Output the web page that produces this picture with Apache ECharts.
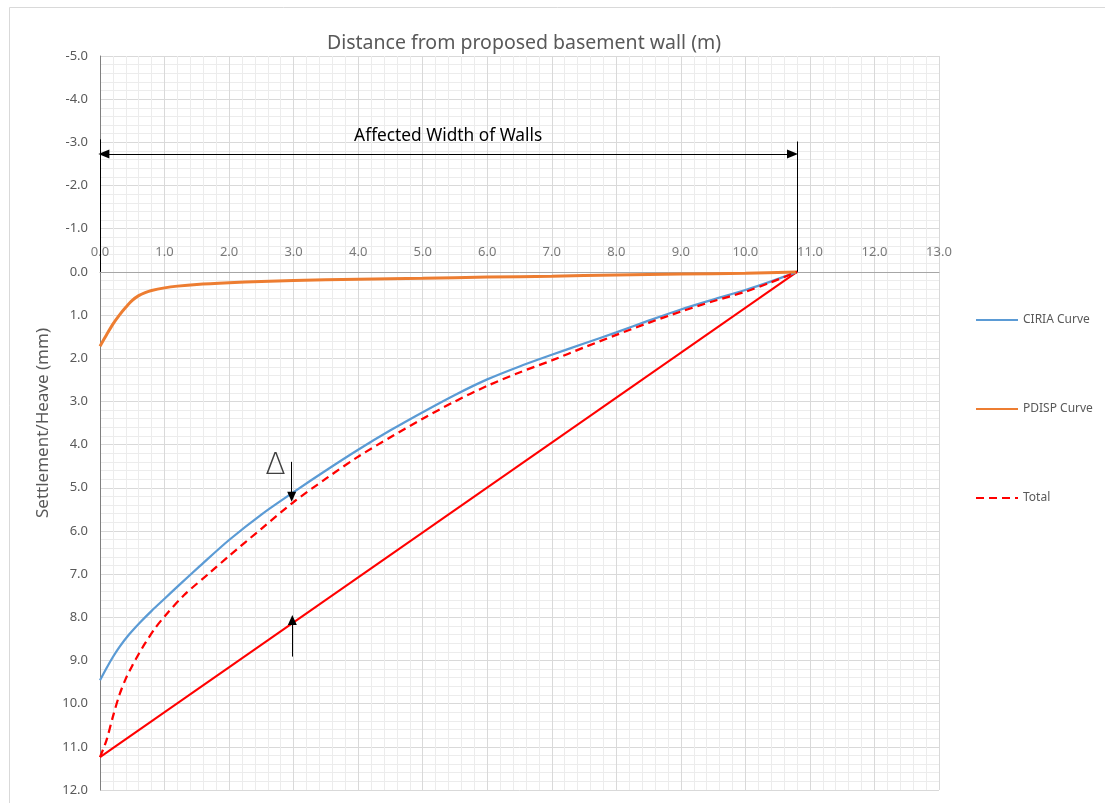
<!DOCTYPE html>
<html>
<head>
<meta charset="utf-8">
<script src="https://cdn.jsdelivr.net/npm/echarts@6/dist/echarts.min.js"></script>
<style>html,body{margin:0;padding:0;background:#fff;}#c{width:1105px;height:803px;}</style>
</head>
<body>
<div id="c"></div>
<script>
// ---- data (x = distance m, y = settlement mm) ----
const ciriaX = [0, 0.1, 0.2, 0.3, 0.45, 0.62, 0.8, 1.0, 1.25, 1.55, 2.0, 2.5, 3.0, 3.5, 4.0, 4.5, 5.0, 5.5, 6.0, 6.5, 7.0, 7.5, 8.0, 8.5, 9.0, 9.5, 10.0, 10.4, 10.8];
const ciriaY = [9.46, 9.18, 8.92, 8.69, 8.4, 8.12, 7.85, 7.57, 7.22, 6.81, 6.21, 5.62, 5.1, 4.6, 4.12, 3.67, 3.25, 2.85, 2.49, 2.19, 1.92, 1.66, 1.4, 1.13, 0.87, 0.64, 0.42, 0.22, 0];
const pdispX = [0, 0.1, 0.2, 0.3, 0.4, 0.5, 0.6, 0.7, 0.8, 1.0, 1.2, 1.5, 2.0, 2.5, 3.0, 4.0, 5.0, 6.0, 7.0, 8.0, 9.0, 10.0, 10.8];
const pdispY = [1.72, 1.46, 1.21, 1.0, 0.82, 0.66, 0.55, 0.48, 0.43, 0.37, 0.33, 0.29, 0.25, 0.22, 0.2, 0.17, 0.15, 0.12, 0.1, 0.07, 0.05, 0.03, 0];
const totalX = [0, 0.1, 0.2, 0.3, 0.4, 0.5, 0.6, 0.7, 0.85, 1.0, 1.3, 1.7, 2.0, 2.5, 3.0, 3.5, 4.0, 4.5, 5.0, 5.5, 6.0, 6.5, 7.0, 7.5, 8.0, 8.5, 9.0, 9.5, 10.0, 10.4, 10.8];
const totalY = [11.24, 10.85, 10.3, 9.8, 9.42, 9.12, 8.85, 8.6, 8.26, 7.98, 7.49, 6.97, 6.58, 5.95, 5.33, 4.79, 4.28, 3.83, 3.4, 3.0, 2.64, 2.33, 2.05, 1.75, 1.46, 1.18, 0.92, 0.68, 0.46, 0.24, 0];
const limitX = [0, 10.8];
const limitY = [11.24, 0];
const seriesNames = ['CIRIA Curve', 'PDISP Curve', 'Total'];
const xTickValues = [0, 1, 2, 3, 4, 5, 6, 7, 8, 9, 10, 11, 12, 13];
const yTicks = {min: -5, max: 12, step: 1};

const zip = (xs, ys) => xs.map((x, i) => [x, ys[i]]);
const grey = '#595959';
const font = 'Noto Sans';

const chart = echarts.init(document.getElementById('c'), null, {renderer: 'canvas'});
chart.setOption({
  backgroundColor: '#fff',
  animation: false,
  textStyle: {fontFamily: font},
  graphic: [{
    type: 'rect', left: 7, top: 5, silent: true,
    shape: {width: 1120, height: 820},
    style: {fill: 'none', stroke: '#d9d9d9', lineWidth: 1}
  }],
  title: {
    text: 'Distance from proposed basement wall (m)',
    left: 519, top: 28, textAlign: 'center',
    textStyle: {fontSize: 19.5, fontWeight: 'normal', color: grey, fontFamily: font}
  },
  legend: {
    orient: 'vertical', left: 970, top: 309,
    itemGap: 77, itemWidth: 42, itemHeight: 14,
    data: seriesNames,
    itemStyle: {opacity: 0},
    textStyle: {fontSize: 12, color: grey, fontFamily: font}
  },
  grid: {left: 100, top: 56, width: 839, height: 734},
  xAxis: {
    type: 'value', position: 'top',
    min: xTickValues[0], max: xTickValues[xTickValues.length - 1], interval: 1,
    axisLine: {show: true, onZero: true, lineStyle: {color: '#a6a6a6', width: 1}},
    axisTick: {show: false},
    axisLabel: {show: false},
    splitLine: {show: true, lineStyle: {color: '#d9d9d9', width: 1}},
    minorTick: {show: false, splitNumber: 5},
    minorSplitLine: {show: true, lineStyle: {color: '#ececec', width: 1}}
  },
  yAxis: {
    type: 'value', inverse: true,
    min: yTicks.min, max: yTicks.max, interval: yTicks.step,
    name: 'Settlement/Heave (mm)', nameLocation: 'middle', nameGap: 48,
    nameTextStyle: {fontSize: 17, color: grey, fontFamily: font},
    axisLine: {show: true, onZero: false, lineStyle: {color: '#7f7f7f', width: 1}},
    axisTick: {show: false},
    axisLabel: {margin: 12, fontSize: 13, color: grey, fontFamily: font, formatter: v => v.toFixed(1)},
    splitLine: {show: true, lineStyle: {color: '#d9d9d9', width: 1}},
    minorTick: {show: false, splitNumber: 5},
    minorSplitLine: {show: true, lineStyle: {color: '#ececec', width: 1}}
  },
  series: [
    {
      name: 'xTickLabels', type: 'scatter', data: xTickValues.map(v => [v, 0]),
      symbolSize: 0, silent: true, clip: false, z: 1,
      itemStyle: {color: 'rgba(0,0,0,0)'},
      label: {show: true, position: 'top', distance: 13, fontSize: 13, color: grey, fontFamily: font,
              formatter: p => p.value[0].toFixed(1)}
    },
    {
      name: 'Limit', type: 'line', data: zip(limitX, limitY), showSymbol: false, symbol: 'none',
      lineStyle: {color: '#ff0000', width: 2}, itemStyle: {color: '#ff0000'}, z: 3,
      markLine: {
        silent: true, symbol: 'none', animation: false,
        lineStyle: {color: '#000', width: 1, type: 'solid'},
        label: {show: false},
        data: [
          [{coord: [10.8, 0]}, {coord: [10.8, -3.02]}],
          [{coord: [0, 0]}, {coord: [0, -3.07]}],
          [{coord: [0.06, -2.73], symbol: 'triangle', symbolSize: [9, 11]},
           {coord: [10.73, -2.73], symbol: 'triangle', symbolSize: [9, 11],
            label: {show: true, position: 'insideMiddleTop', distance: 9, formatter: 'Affected Width of Walls',
                    color: '#000', fontSize: 17.3, fontFamily: font}}],
          [{coord: [2.97, 4.4], symbol: 'none'}, {coord: [2.97, 5.21], symbol: 'triangle', symbolSize: [9, 10]}],
          [{coord: [2.98, 8.91], symbol: 'none'}, {coord: [2.98, 8.06], symbol: 'triangle', symbolSize: [9, 10]}]
        ]
      },
      markPoint: {
        silent: true, symbol: 'rect', symbolSize: 1, itemStyle: {color: 'rgba(0,0,0,0)'},
        label: {show: true, position: 'inside', formatter: '\u0394', fontSize: 30, fontWeight: 200,
                color: '#404040', fontFamily: 'DejaVu Sans'},
        data: [{coord: [2.72, 4.5]}]
      }
    },
    {
      name: 'CIRIA Curve', type: 'line', data: zip(ciriaX, ciriaY), smooth: 0.3, showSymbol: false, symbol: 'none',
      lineStyle: {color: '#5b9bd5', width: 2.25}, itemStyle: {color: '#5b9bd5'}, z: 4
    },
    {
      name: 'PDISP Curve', type: 'line', data: zip(pdispX, pdispY), smooth: 0.3, showSymbol: false, symbol: 'none',
      lineStyle: {color: '#ed7d31', width: 3}, itemStyle: {color: '#ed7d31'}, z: 4
    },
    {
      name: 'Total', type: 'line', data: zip(totalX, totalY), smooth: 0.3, showSymbol: false, symbol: 'none',
      lineStyle: {color: '#ff0000', width: 2.25, type: [8, 5]}, itemStyle: {color: '#ff0000'}, z: 5
    }
  ]
});
</script>
</body>
</html>
